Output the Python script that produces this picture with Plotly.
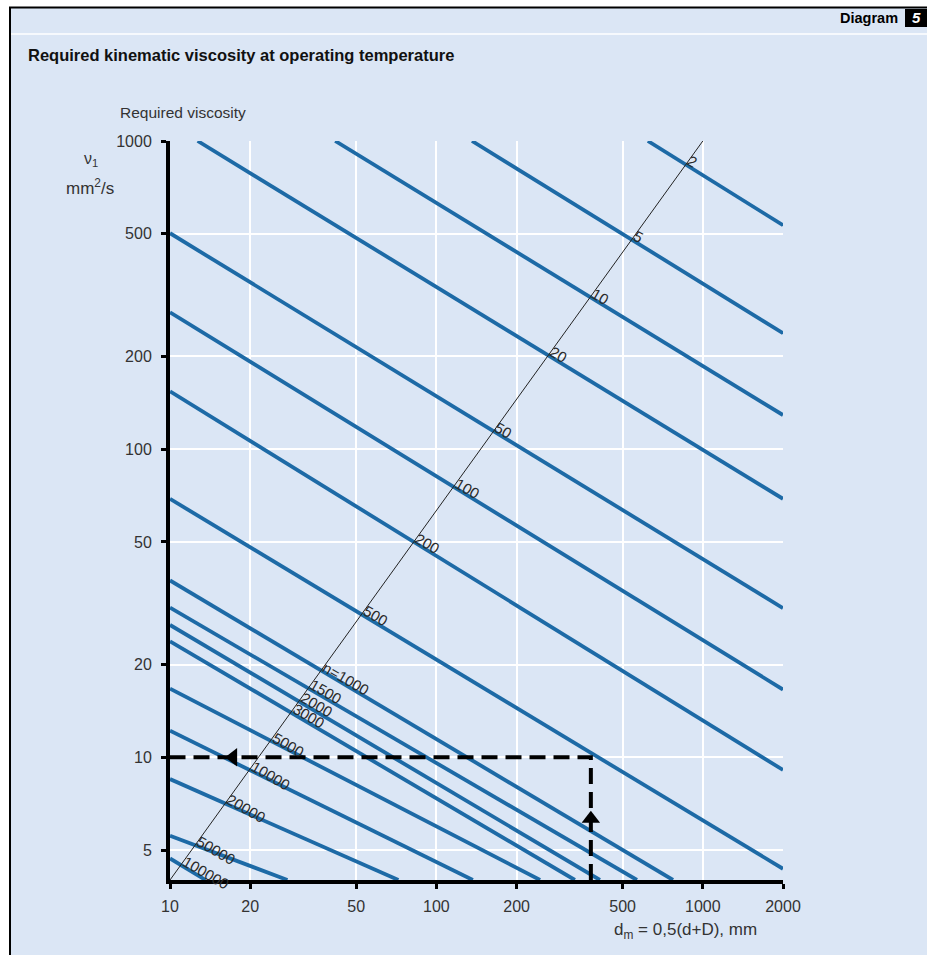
import math
import plotly.graph_objects as go

# Rotational speed of each curve, r/min, and the label written on it
SPEED_TEXT = ["2", "5", "10", "20", "50", "100", "200", "500", "n=1000", "1500",
              "2000", "3000", "5000", "10000", "20000", "50000", "100000"]

# End points of each speed curve: mean diameter d_m (mm) and required viscosity nu_1 (mm2/s)
CURVE_DM = [
    [622, 2000], [136, 2000], [41.7, 2000], [12.7, 2000],
    [10, 2000], [10, 2000], [10, 2000], [10, 2000],
    [10, 773], [10, 566], [10, 411], [10, 331], [10, 245],
    [10, 137], [10, 72], [10, 27.6], [10, 13.6],
]
CURVE_NU = [
    [1000, 533], [1000, 238], [1000, 129], [1000, 69],
    [502, 30.5], [278, 16.6], [154, 9.1], [69, 4.35],
    [37.5, 4], [30.6, 4], [26.9, 4], [23.8, 4], [16.7, 4],
    [12.2, 4], [8.5, 4], [5.57, 4], [4.7, 4],
]

# Reference line along which the speeds are marked
DIAG_DM = [10, 1000]
DIAG_NU = [4, 1000]

# Worked example: d_m read upwards to the curve, then across to nu_1
EXAMPLE_DM = [380, 380, 10]
EXAMPLE_NU = [4, 10, 10]

X_TICKS = [10, 20, 50, 100, 200, 500, 1000, 2000]
Y_TICKS = [5, 10, 20, 50, 100, 200, 500, 1000]

W, H = 927, 955
PL, PR, PT, PB = 170, 783, 141, 880  # plot area edges in pixels
BG = "#dbe6f5"
BLUE = "#1d6aa6"
FONT = "Liberation Sans, Arial, Helvetica, sans-serif"
TXT = "#333333"


def fx(x):
    return (x - PL) / (PR - PL)


def fy(y):
    return (PB - y) / (PB - PT)


def log_intersect(ax, ay, bx, by):
    """Intersection of two straight log-log segments, returned in data units."""
    x1, y1, x2, y2 = [math.log10(v) for v in (ax[0], ay[0], ax[1], ay[1])]
    x3, y3, x4, y4 = [math.log10(v) for v in (bx[0], by[0], bx[1], by[1])]
    d = (x1 - x2) * (y3 - y4) - (y1 - y2) * (x3 - x4)
    t = ((x1 - x3) * (y3 - y4) - (y1 - y3) * (x3 - x4)) / d
    return 10 ** (x1 + t * (x2 - x1)), 10 ** (y1 + t * (y2 - y1))


fig = go.Figure()

for dm, nu in zip(CURVE_DM, CURVE_NU):
    fig.add_trace(go.Scatter(x=dm, y=nu, mode="lines",
                             line=dict(color=BLUE, width=3.8),
                             hoverinfo="skip", showlegend=False))

fig.add_trace(go.Scatter(x=DIAG_DM, y=DIAG_NU, mode="lines",
                         line=dict(color="#222222", width=1),
                         hoverinfo="skip", showlegend=False))

fig.add_trace(go.Scatter(x=EXAMPLE_DM, y=EXAMPLE_NU, mode="lines",
                         line=dict(color="black", width=4, dash="16px,8px"),
                         hoverinfo="skip", showlegend=False))

# arrow heads on the example path (placed along its two legs, in log space)
up_y = 10 ** (math.log10(EXAMPLE_NU[0]) + 0.5 * (math.log10(EXAMPLE_NU[1]) - math.log10(EXAMPLE_NU[0])))
left_x = 10 ** (math.log10(EXAMPLE_DM[1]) + 0.85 * (math.log10(EXAMPLE_DM[2]) - math.log10(EXAMPLE_DM[1])))
fig.add_trace(go.Scatter(x=[EXAMPLE_DM[0]], y=[up_y], mode="markers",
                         marker=dict(symbol="triangle-up", size=16, color="black"),
                         hoverinfo="skip", showlegend=False))
fig.add_trace(go.Scatter(x=[left_x], y=[EXAMPLE_NU[1]], mode="markers",
                         marker=dict(symbol="triangle-left", size=16, color="black"),
                         hoverinfo="skip", showlegend=False))

annotations = []
ang = 30
for text, dm, nu in zip(SPEED_TEXT, CURVE_DM, CURVE_NU):
    ix, iy = log_intersect(dm, nu, DIAG_DM, DIAG_NU)
    w = len(text) * 8.4
    annotations.append(dict(
        x=math.log10(ix), y=math.log10(iy), xref="x", yref="y",
        text=text, showarrow=False, textangle=ang,
        xanchor="center", yanchor="middle",
        xshift=w / 2 * math.cos(math.radians(ang)) + 3,
        yshift=-w / 2 * math.sin(math.radians(ang)) + 5,
        font=dict(family=FONT, size=15, color="#2a2a2a"),
    ))

# header and axis captions
annotations += [
    dict(x=fx(900), y=fy(18), xref="paper", yref="paper", text="<b>Diagram</b>",
         showarrow=False, xanchor="right", yanchor="middle",
         font=dict(family=FONT, size=14.5, color="black")),
    dict(x=fx(916), y=fy(18), xref="paper", yref="paper", text="<b><i>5</i></b>",
         showarrow=False, xanchor="center", yanchor="middle",
         font=dict(family=FONT, size=15, color="white")),
    dict(x=fx(26), y=fy(55), xref="paper", yref="paper",
         text="<b>Required kinematic viscosity at operating temperature</b>",
         showarrow=False, xanchor="left", yanchor="middle",
         font=dict(family=FONT, size=16.5, color="#111111")),
    dict(x=fx(118), y=fy(113), xref="paper", yref="paper", text="Required viscosity",
         showarrow=False, xanchor="left", yanchor="middle",
         font=dict(family=FONT, size=15.5, color=TXT)),
    dict(x=fx(91), y=fy(160), xref="paper", yref="paper", text="ν<sub>1</sub>",
         showarrow=False, xanchor="center", yanchor="middle",
         font=dict(family=FONT, size=16, color=TXT)),
    dict(x=fx(90), y=fy(187), xref="paper", yref="paper", text="mm<sup>2</sup>/s",
         showarrow=False, xanchor="center", yanchor="middle",
         font=dict(family=FONT, size=17, color=TXT)),
    dict(x=fx(612), y=fy(931), xref="paper", yref="paper",
         text="d<sub>m</sub> = 0,5(d+D), mm",
         showarrow=False, xanchor="left", yanchor="middle",
         font=dict(family=FONT, size=17, color=TXT)),
]

shapes = [
    # white outside the frame
    dict(type="rect", xref="paper", yref="paper", x0=fx(0), x1=fx(W), y0=fy(0), y1=fy(7),
         fillcolor="white", line=dict(width=0), layer="below"),
    dict(type="rect", xref="paper", yref="paper", x0=fx(0), x1=fx(9), y0=fy(0), y1=fy(H),
         fillcolor="white", line=dict(width=0), layer="below"),
    # frame lines
    dict(type="line", xref="paper", yref="paper", x0=fx(9), x1=fx(W), y0=fy(7.5), y1=fy(7.5),
         line=dict(color="black", width=2)),
    dict(type="line", xref="paper", yref="paper", x0=fx(10), x1=fx(10), y0=fy(7), y1=fy(H),
         line=dict(color="black", width=2)),
    # header separator
    dict(type="line", xref="paper", yref="paper", x0=fx(11), x1=fx(W), y0=fy(34), y1=fy(34),
         line=dict(color="white", width=1.5)),
    # diagram number box
    dict(type="rect", xref="paper", yref="paper", x0=fx(905), x1=fx(W + 2), y0=fy(27), y1=fy(9),
         fillcolor="black", line=dict(width=0)),
]

axis_common = dict(
    type="log", showline=True, linecolor="black", linewidth=4,
    ticks="outside", ticklen=5, tickwidth=3, tickcolor="black",
    showgrid=True, gridcolor="white", gridwidth=1.5, zeroline=False,
    tickfont=dict(family=FONT, size=16, color=TXT),
)

fig.update_layout(
    width=W, height=H,
    margin=dict(l=PL, r=W - PR, t=PT, b=H - PB),
    paper_bgcolor=BG, plot_bgcolor=BG,
    xaxis=dict(range=[1, math.log10(2000)], tickvals=X_TICKS,
               ticktext=[str(v) for v in X_TICKS], ticklabelstandoff=4, **axis_common),
    yaxis=dict(range=[math.log10(4), 3], tickvals=Y_TICKS,
               ticktext=[str(v) for v in Y_TICKS], ticklabelstandoff=6, **axis_common),
    annotations=annotations, shapes=shapes,
)

fig.write_html("out.html")
